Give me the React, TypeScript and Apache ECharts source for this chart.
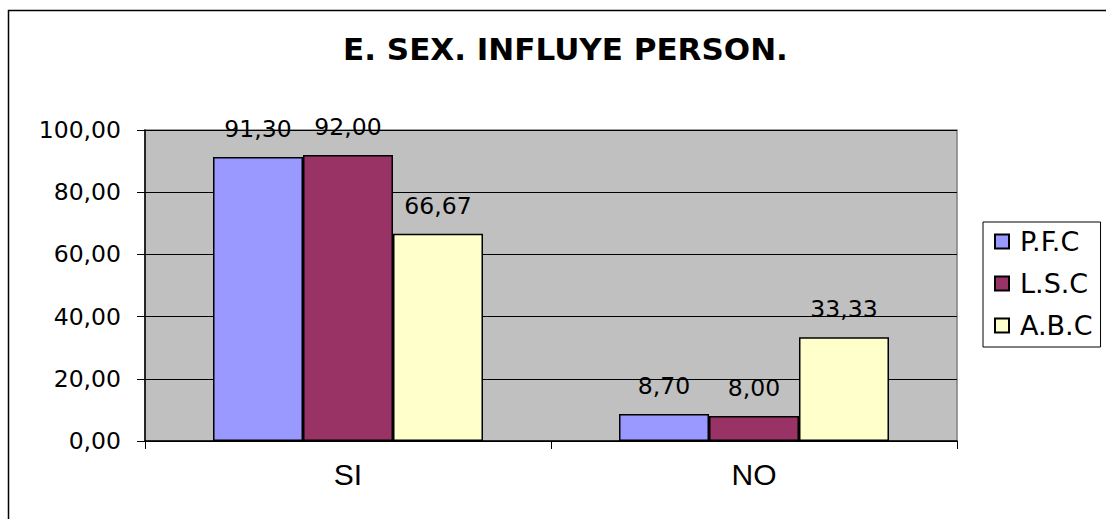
import React, { useEffect, useRef } from "react";
import * as echarts from "echarts";

const categories = ["SI", "NO"];
const seriesNames = ["P.F.C", "L.S.C", "A.B.C"];
const pfcValues = [91.3, 8.7];
const lscValues = [92.0, 8.0];
const abcValues = [66.67, 33.33];
const seriesColors = ["#9999FF", "#993366", "#FFFFCC"];
const yTicks = { min: 0, max: 100, interval: 20 };
const titleText = "E. SEX. INFLUYE PERSON.";

const fmt = (v: number) => v.toFixed(2).replace(".", ",");

export default function App() {
  const ref = useRef<HTMLDivElement>(null);
  useEffect(() => {
    if (!ref.current) return;
    const chart = echarts.init(ref.current, undefined, { renderer: "svg" });
    const allValues = [pfcValues, lscValues, abcValues];
    chart.setOption({
      animation: false,
      backgroundColor: "#ffffff",
      title: {
        text: titleText,
        left: 560.5,
        top: 28,
        textAlign: "center",
        textStyle: {
          fontFamily: "DejaVu Sans",
          fontWeight: "bold",
          fontSize: 31,
          color: "#000",
        },
      },
      graphic: [
        {
          type: "rect",
          shape: { x: 8.5, y: 10.5, width: 1300, height: 700 },
          style: { fill: "none", stroke: "#000", lineWidth: 1.5 },
          silent: true,
          z: -1,
        },
      ],
      legend: {
        orient: "vertical",
        left: 983,
        top: 222,
        itemWidth: 14,
        itemHeight: 14,
        itemGap: 15,
        padding: [6, 8, 8, 11],
        borderColor: "#000",
        borderWidth: 1,
        backgroundColor: "#fff",
        icon: "rect",
        data: seriesNames,
        textStyle: {
          fontFamily: "DejaVu Sans",
          fontSize: 27,
          lineHeight: 27,
          color: "#000",
          padding: [0, 0, 0, 6],
        },
      },
      grid: {
        left: 145,
        top: 130,
        right: 149,
        bottom: 78,
        show: true,
        backgroundColor: "#C0C0C0",
        borderColor: "#808080",
        borderWidth: 1.5,
      },
      xAxis: {
        type: "category",
        data: categories,
        axisLine: { show: true, lineStyle: { color: "#000", width: 1.5 } },
        axisTick: { show: true, length: 8, lineStyle: { color: "#000" } },
        axisLabel: {
          fontFamily: "Liberation Sans",
          fontSize: 30,
          color: "#000",
          margin: 18,
        },
      },
      yAxis: {
        type: "value",
        min: yTicks.min,
        max: yTicks.max,
        interval: yTicks.interval,
        axisLine: { show: true, lineStyle: { color: "#000", width: 1.5 } },
        axisTick: { show: true, length: 8, lineStyle: { color: "#000" } },
        splitLine: { show: true, lineStyle: { color: "#000", width: 1 } },
        axisLabel: {
          fontFamily: "DejaVu Sans",
          fontSize: 23.5,
          color: "#000",
          margin: 24,
          formatter: (v: number) => fmt(v),
        },
      },
      series: seriesNames.map((name, i) => ({
        name,
        type: "bar",
        data: allValues[i],
        barGap: "0%",
        barCategoryGap: "33.5%",
        itemStyle: {
          color: seriesColors[i],
          borderColor: "#000",
          borderWidth: 1.5,
        },
        label: {
          show: true,
          position: "top",
          distance: 16,
          fontFamily: "DejaVu Sans",
          fontSize: 23.5,
          color: "#000",
          formatter: (p: any) => fmt(p.value),
        },
      })),
    });
    return () => chart.dispose();
  }, []);
  return (
    <div
      ref={ref}
      style={{ position: "absolute", left: 0, top: 0, width: 1106, height: 519 }}
    />
  );
}
